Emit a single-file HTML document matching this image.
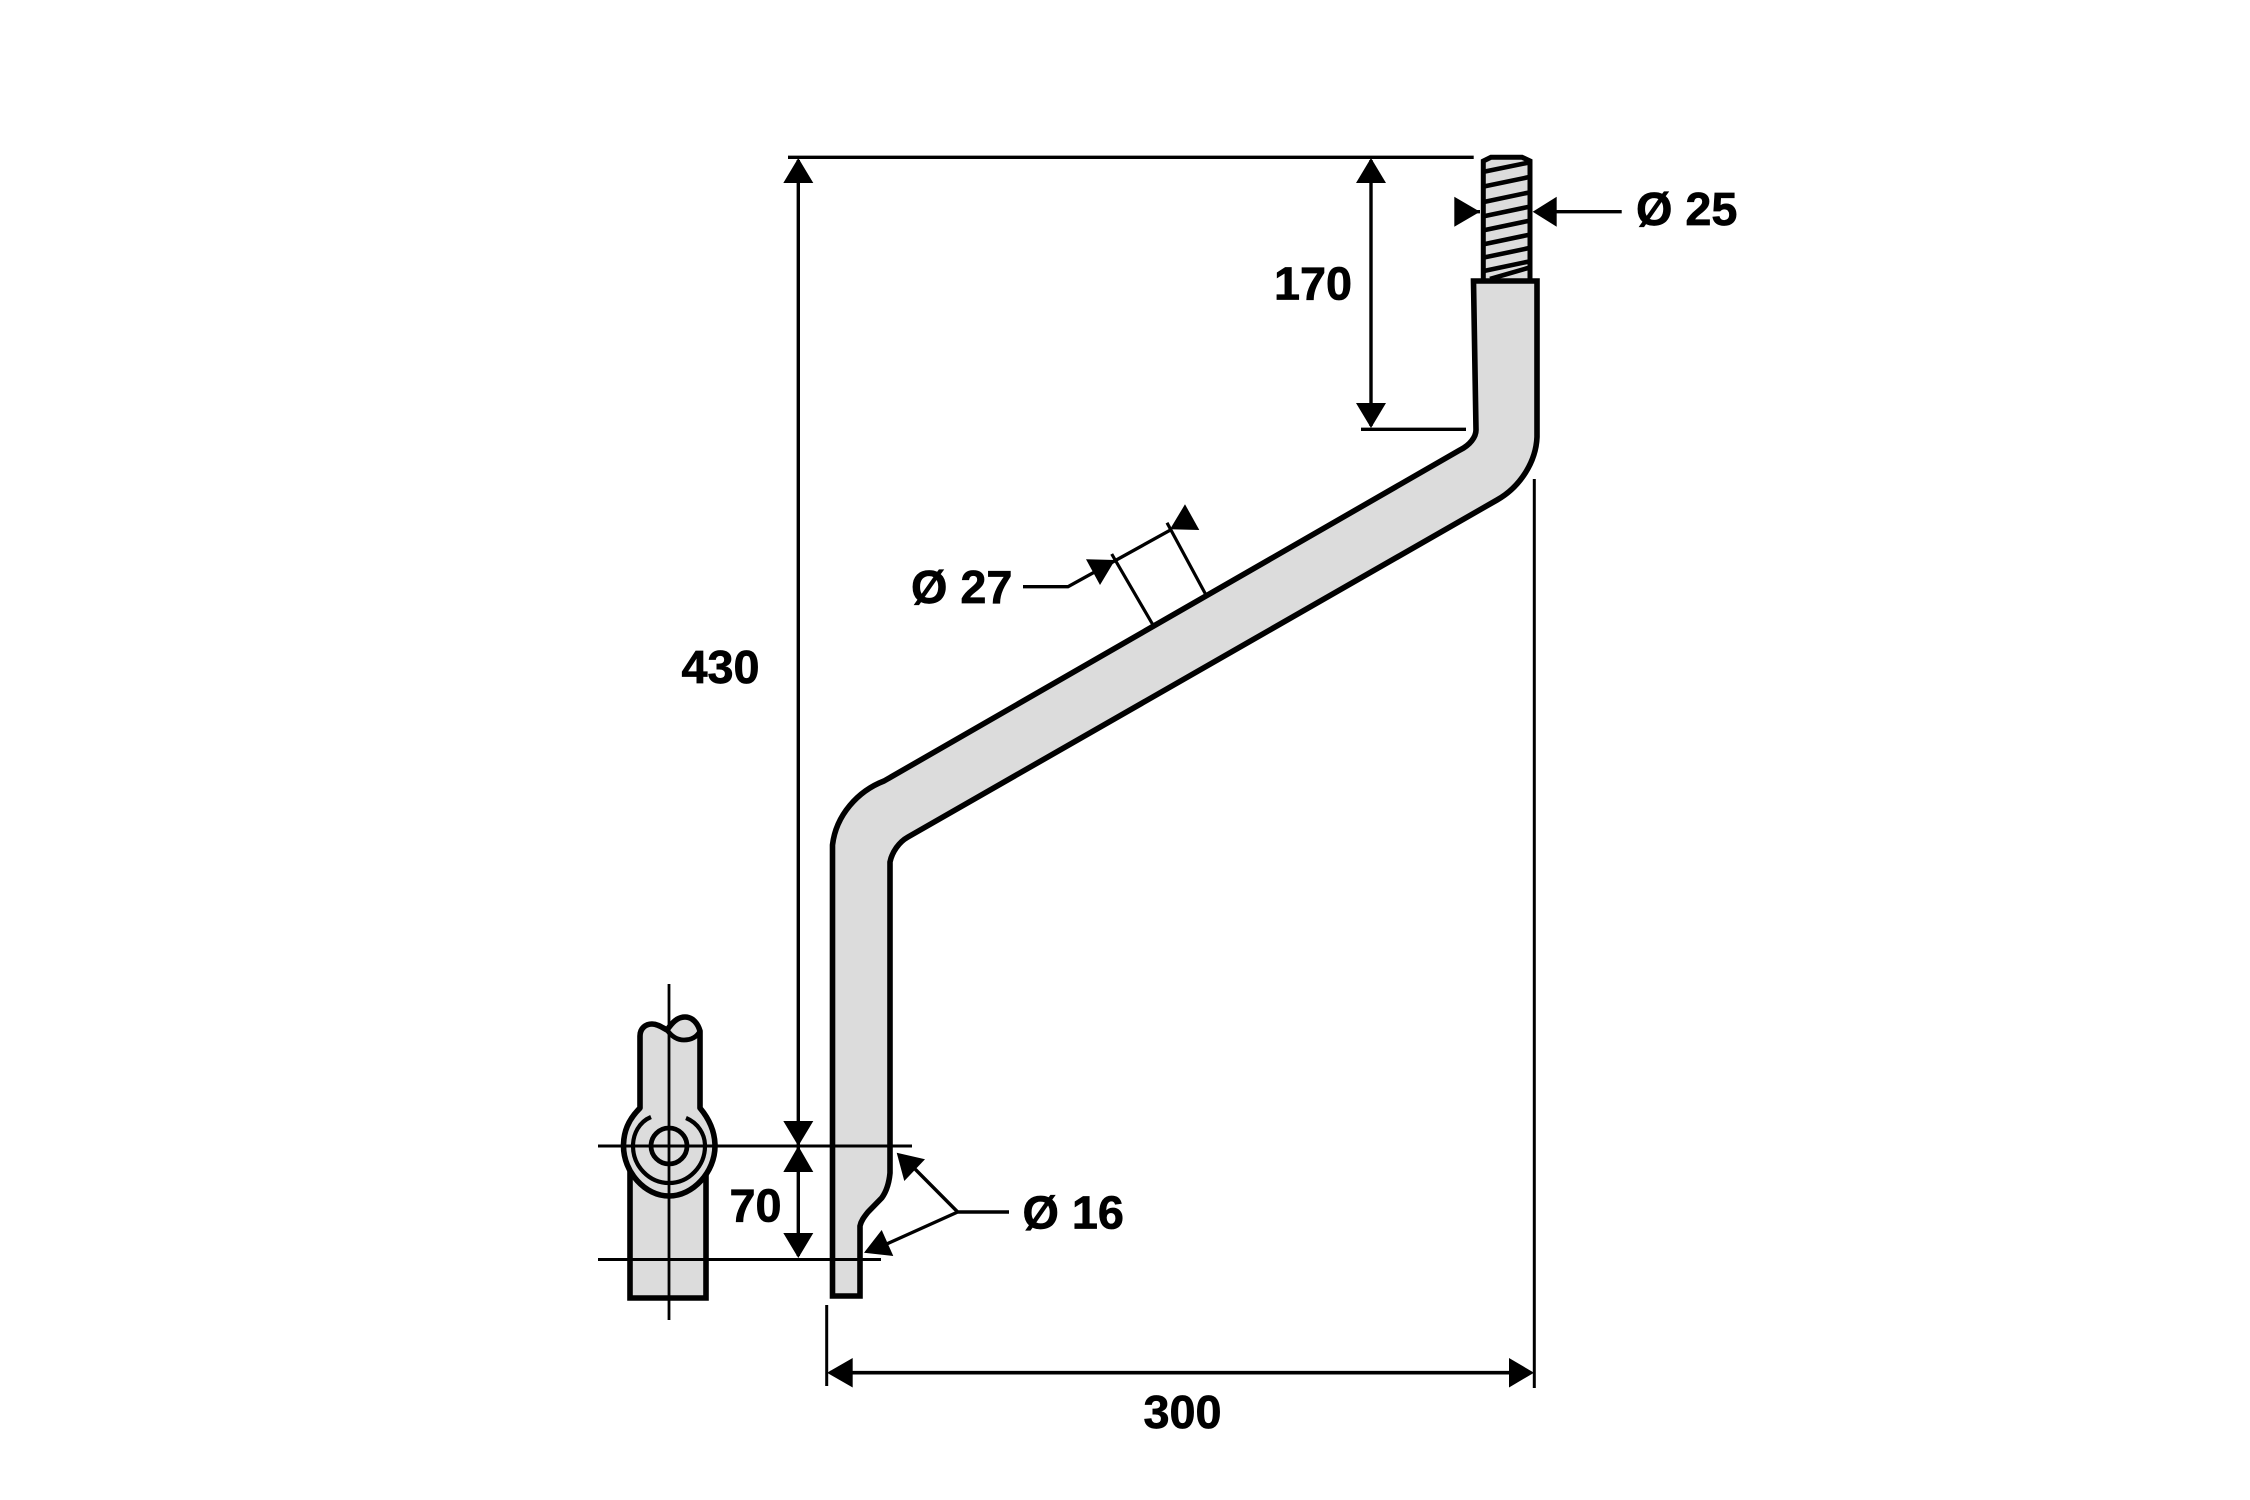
<!DOCTYPE html>
<html><head><meta charset="utf-8"><style>
html,body{margin:0;padding:0;background:#fff}
svg{display:block}
text{font-family:"Liberation Sans",sans-serif;font-weight:bold;font-size:46.8px;fill:#000;stroke:#000;stroke-width:.7}
</style></head><body>
<svg width="2250" height="1500" viewBox="0 0 2250 1500" xmlns="http://www.w3.org/2000/svg">
<rect width="2250" height="1500" fill="#fff"/>
<!-- thread -->
<path d="M1483.3,282V161L1491,157.2H1522L1530,161V282Z" fill="#dcdcdc" stroke="#000" stroke-width="5"/>
<g stroke="#000" stroke-width="4.6" fill="none">
<path d="M1485,171.5L1528,162.7M1485,186.3L1528,177.3M1485,201.7L1528,192.7M1485,216L1528,207M1485,230L1528,221M1485,244L1528,235M1485,257.3L1528,248.3M1485,270.7L1528,261.7M1490,279L1528,268"/>
</g>
<!-- main bar -->
<path d="M1473.5,281H1537V437C1536,462 1520,487 1497,500L908,837C899,842 892,852 890,862V1173C889,1184 886,1192 881.7,1198L868,1212C864,1217 861,1221 860,1226V1296H832.5V845C836,815 858,791 884,781L1460,450C1470,445 1476,437 1476,430Z" fill="#dcdcdc" stroke="#000" stroke-width="5.6" stroke-linejoin="miter"/>
<!-- side view -->
<path d="M630,1170V1298H706V1170" fill="#dcdcdc" stroke="#000" stroke-width="5.6"/>
<path d="M640,1108V1036C640,1028 646,1024 652,1024C658,1024 663,1028 667,1030C672,1023 677,1017 685,1017C693,1017 698,1024 700,1031V1108C710,1120 715,1132 715,1146C715,1172 693,1196 669,1196C645,1196 623.5,1172 623.5,1146C623.5,1132 628,1120 640,1108Z" fill="#dcdcdc" stroke="#000" stroke-width="5.6" stroke-linejoin="round"/>
<path d="M667,1030C672,1037 678,1040 684,1040C691,1040 697,1037 700,1031" fill="none" stroke="#000" stroke-width="4.8"/>
<path d="M651,1117C639,1122 633,1134 633,1146C633,1166 649,1183 669,1183C689,1183 705,1166 705,1146C705,1134 698,1123 686,1118" fill="none" stroke="#000" stroke-width="4.2"/>
<circle cx="669" cy="1146" r="18" fill="none" stroke="#000" stroke-width="4.8"/>
<!-- centre lines -->
<g stroke="#000" fill="none">
<path d="M669,984V1320" stroke-width="2.8"/>
<path d="M598,1146H912M598,1259.5H881" stroke-width="3"/>
<!-- dimensions -->
<path d="M788,157.3H1473.7" stroke-width="3.4"/>
<path d="M798.3,160V1256" stroke-width="3.4"/>
<path d="M1371,160V426" stroke-width="3.4"/>
<path d="M1361,429.3H1466" stroke-width="3.4"/>
<path d="M1460,211.7H1480M1556,211.7H1621.7" stroke-width="3.4"/>
<path d="M1534.3,479V1388" stroke-width="3"/>
<path d="M826.7,1305V1386" stroke-width="3"/>
<path d="M830,1372.7H1530" stroke-width="3.6"/>
<path d="M1023,586.7H1068L1171.7,529.3" stroke-width="3.4"/>
<path d="M1111.7,554L1153,625M1167,522.7L1206,595" stroke-width="3.2"/>
<path d="M1009,1212H957.7L915,1169M957.7,1212L880,1247" stroke-width="3.4"/>
</g>
<g fill="#000">
<path d="M798.3,158L813.3,183H783.3Z"/>
<path d="M798.3,1146L813.3,1121H783.3Z"/>
<path d="M798.3,1146L813.3,1172H783.3Z"/>
<path d="M798.3,1258L813.3,1233H783.3Z"/>
<path d="M1371,158L1386,183H1356Z"/>
<path d="M1371,428L1386,403H1356Z"/>
<path d="M1480,211.7L1454.3,196.7V226.7Z"/>
<path d="M1532.7,211.7L1556.7,196.7V226.7Z"/>
<path d="M827,1372.7L852.7,1358V1387.5Z"/>
<path d="M1534,1372.7L1509,1358V1387.5Z"/>
<path d="M1115,560L1086,559.3L1100,585Z"/>
<path d="M1185,504.3L1170,529.3L1199.3,530Z"/>
<path d="M896.7,1152.7L925,1159.3L904.3,1181Z"/>
<path d="M864,1252.7L881.7,1230L893.3,1256Z"/>
</g>
<text x="1636" y="225">Ø 25</text>
<text x="1274" y="299.3">170</text>
<text x="681.5" y="683">430</text>
<text x="911" y="602.8">Ø 27</text>
<text x="1022.5" y="1228.3">Ø 16</text>
<text x="729.5" y="1221.7">70</text>
<text x="1143.5" y="1428">300</text>
</svg>
</body></html>
